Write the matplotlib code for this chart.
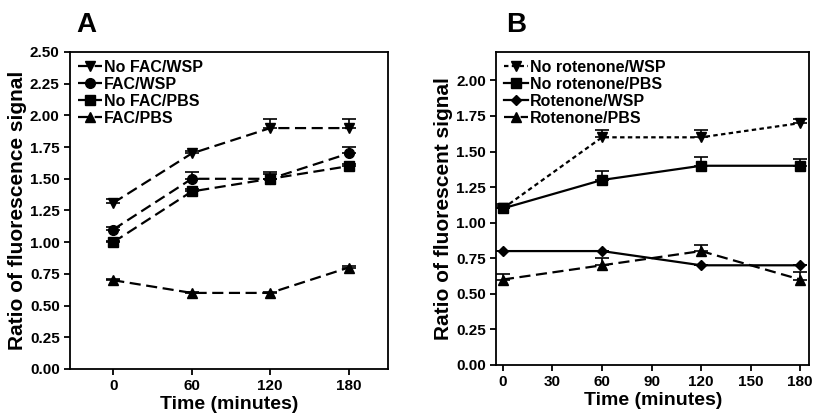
import numpy as np
import matplotlib.pyplot as plt

plt.rcParams['font.family'] = ['Liberation Sans', 'DejaVu Sans']
plt.rcParams['font.weight'] = 'bold'

time = [0, 60, 120, 180]

# panel A
a_labels = ['No FAC/WSP', 'FAC/WSP', 'No FAC/PBS', 'FAC/PBS']
a_vals = [[1.31, 1.70, 1.90, 1.90],
          [1.10, 1.50, 1.50, 1.70],
          [1.00, 1.40, 1.50, 1.60],
          [0.70, 0.60, 0.60, 0.80]]
a_err = [[0.03, 0.02, 0.07, 0.07],
         [0.02, 0.05, 0.04, 0.05],
         [0.01, 0.02, 0.05, 0.02],
         [0.01, 0.01, 0.01, 0.01]]
a_mk = ['v', 'o', 's', '^']

# panel B
b_labels = ['No rotenone/WSP', 'No rotenone/PBS', 'Rotenone/WSP', 'Rotenone/PBS']
b_vals = [[1.10, 1.60, 1.60, 1.70],
          [1.10, 1.30, 1.40, 1.40],
          [0.80, 0.80, 0.70, 0.70],
          [0.60, 0.70, 0.80, 0.60]]
b_err = [[0.03, 0.05, 0.05, 0.03],
         [0.02, 0.06, 0.06, 0.05],
         [0.00, 0.00, 0.00, 0.00],
         [0.04, 0.05, 0.04, 0.05]]
b_mk = ['v', 's', 'D', '^']
b_ls = [(0, (2, 1.5)), '-', '-', (0, (5, 2.5))]
b_ms = [7, 7, 5, 7]

fig = plt.figure(figsize=(8.15, 4.16), dpi=100)
ax1 = fig.add_axes([0.086, 0.113, 0.390, 0.762])
ax2 = fig.add_axes([0.609, 0.123, 0.384, 0.752])

h1 = []
for v, e, m, lab in zip(a_vals, a_err, a_mk, a_labels):
    c = ax1.errorbar(time, v, yerr=[np.zeros(4), e], color='black', marker=m, ms=7,
                     ls=(0, (5, 2.5)), lw=1.6, capsize=5, elinewidth=1.2, capthick=1.2)
    c[0].set_label(lab)
    h1.append(c[0])

h2 = []
for v, e, m, ls, ms, lab in zip(b_vals, b_err, b_mk, b_ls, b_ms, b_labels):
    c = ax2.errorbar(time, v, yerr=[np.zeros(4), e], color='black', marker=m, ms=ms,
                     ls=ls, lw=1.6, capsize=5, elinewidth=1.2, capthick=1.2)
    c[0].set_label(lab)
    h2.append(c[0])

ax1.set_xlim(-33, 210)
ax1.set_ylim(0, 2.5)
ax1.set_xticks(time)
ax1.set_yticks(np.arange(0, 2.51, 0.25))
ax1.set_ylabel('Ratio of fluorescence signal', fontsize=15, fontweight='bold', labelpad=2)

ax2.set_xlim(-4, 185.5)
ax2.set_ylim(0, 2.2)
ax2.set_xticks([0, 30, 60, 90, 120, 150, 180])
ax2.set_yticks(np.arange(0, 2.01, 0.25))
ax2.set_ylabel('Ratio of fluorescent signal', fontsize=15, fontweight='bold', labelpad=2)

for ax, hs, t, tx in [(ax1, h1, 'A', 0.02), (ax2, h2, 'B', 0.03)]:
    ax.yaxis.set_major_formatter(plt.FormatStrFormatter('%.2f'))
    ax.set_xlabel('Time (minutes)', fontsize=14, fontweight='bold', labelpad=2)
    ax.tick_params(labelsize=11, width=1.3, length=4)
    for s in ax.spines.values():
        s.set_linewidth(1.3)
    ax.legend(handles=hs, loc='upper left', frameon=False, fontsize=11.5,
              handlelength=1.5, handletextpad=0.1, labelspacing=0.12,
              borderaxespad=0.3, borderpad=0.2)
    ax.text(tx, 1.045, t, transform=ax.transAxes,
            fontsize=20, fontweight='bold', va='bottom')

fig.savefig('out.png', dpi=100)
